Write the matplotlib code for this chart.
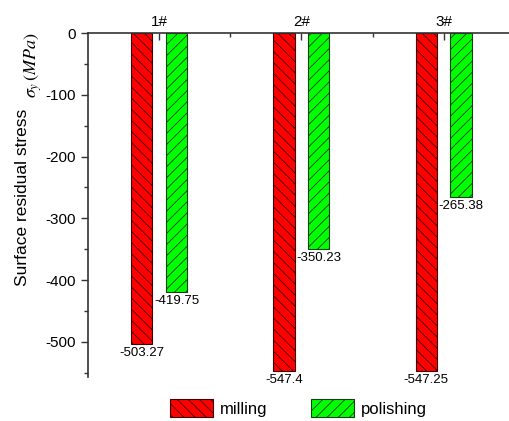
import numpy as np
import matplotlib
matplotlib.use("Agg")
import matplotlib.pyplot as plt
from matplotlib.ticker import MultipleLocator

plt.rcParams['font.family'] = ['Liberation Sans', 'DejaVu Sans']
plt.rcParams['mathtext.fontset'] = 'stix'
plt.rcParams['hatch.linewidth'] = 0.6
plt.rcParams['axes.unicode_minus'] = False

samples = ["1#", "2#", "3#"]
milling = [-503.27, -547.4, -547.25]
polishing = [-419.75, -350.23, -265.38]
milling_lbl = ["-503.27", "-547.4", "-547.25"]
polishing_lbl = ["-419.75", "-350.23", "-265.38"]

x = np.arange(1, len(samples) + 1)
w = 0.15
off = 0.122

fig = plt.figure(figsize=(5.1, 4.21), dpi=100)
ax = fig.add_axes([0.1725, 0.1045, 0.837, 0.817])

b1 = ax.bar(x - off, milling, w, color="#ff0000", edgecolor="#3a0000",
            linewidth=0.8, hatch="\\\\\\", label="milling")
b2 = ax.bar(x + off, polishing, w, color="#00ff00", edgecolor="#1a3a1a",
            linewidth=0.8, hatch="///", label="polishing")

for xi, v, s in zip(x - off, milling, milling_lbl):
    ax.annotate(s, (xi, v), xytext=(0, -2), textcoords="offset points",
                ha="center", va="top", fontsize=9.5)
for xi, v, s in zip(x + off, polishing, polishing_lbl):
    ax.annotate(s, (xi, v), xytext=(0, -2), textcoords="offset points",
                ha="center", va="top", fontsize=9.5)

ax.set_xlim(0.5, 3.5)
ax.set_ylim(-557, 0)

ax.xaxis.tick_top()
ax.set_xticks(x)
ax.set_xticklabels(samples, fontsize=11)
ax.set_xticks([1.5, 2.5], minor=True)
ax.tick_params(axis="x", which="major", direction="in", length=5, width=1, pad=3, colors="#333333", labelcolor="black")
ax.tick_params(axis="x", which="minor", direction="in", length=3, width=1, colors="#333333")

ax.set_yticks([0, -100, -200, -300, -400, -500])
ax.yaxis.set_minor_locator(MultipleLocator(50))
ax.tick_params(axis="y", which="major", direction="out", length=5, width=1, labelsize=11, colors="#333333", labelcolor="black")
ax.tick_params(axis="y", which="minor", direction="out", length=3, width=1, colors="#333333")

for side in ["bottom", "right"]:
    ax.spines[side].set_visible(False)
for side in ["left", "top"]:
    ax.spines[side].set_linewidth(1.2)
    ax.spines[side].set_color("#333333")

fig.text(0.045, 0.53, "Surface residual stress", rotation=90,
         ha="center", va="center", fontsize=12.5)
fig.text(0.065, 0.845, r"$\sigma_y\,(MPa)$", rotation=90,
         ha="center", va="center", fontsize=13)

fig.legend(handles=[b1, b2], loc="center", bbox_to_anchor=(0.585, 0.031),
           ncol=2, frameon=False, fontsize=12, handlelength=2.6,
           handleheight=1.25, columnspacing=2.6, handletextpad=0.4)

fig.savefig("out.png", dpi=100)
